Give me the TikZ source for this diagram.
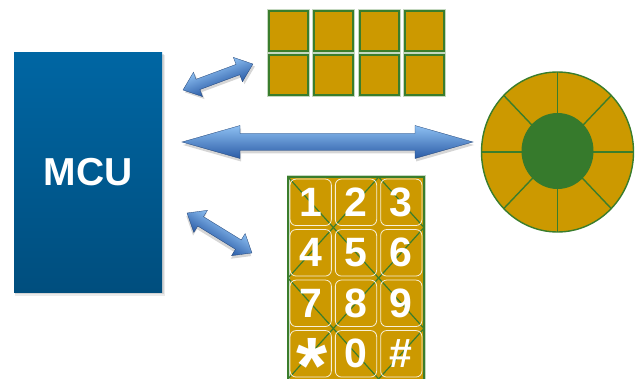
\documentclass[tikz,border=0pt]{standalone}
\usepackage{fontspec}
\setmainfont{Liberation Sans}
\usetikzlibrary{calc}
\definecolor{gold}{HTML}{CC9900}
\definecolor{leaf}{HTML}{3A7D2C}
\definecolor{innerg}{HTML}{367A2C}
\definecolor{mcutop}{HTML}{0066A3}
\definecolor{mcubot}{HTML}{004E7E}
\definecolor{arrtop}{HTML}{8EC0F2}
\definecolor{arrmid}{HTML}{4F8EDC}
\definecolor{arrbot}{HTML}{2A5BA6}
\newcommand\bluearrow[7]{%
  \begin{scope}[transform canvas={shift={(#1,#2)},rotate=#3}]
    \fill[black,opacity=0.16] (1,3) -- (#7+1,#6+3) -- (#7+1,#5+3) -- ({#4-#7+1},#5+3) -- ({#4-#7+1},#6+3) -- (#4+1,3) -- ({#4-#7+1},-#6+3) -- ({#4-#7+1},-#5+3) -- (#7+1,-#5+3) -- (#7+1,-#6+3) -- cycle;
    \shade[top color=arrtop, middle color=arrmid, bottom color=arrbot, draw=arrbot!70!black, line width=0.3]
      (0,0) -- (#7,#6) -- (#7,#5) -- ({#4-#7},#5) -- ({#4-#7},#6) -- (#4,0) -- ({#4-#7},-#6) -- ({#4-#7},-#5) -- (#7,-#5) -- (#7,-#6) -- cycle;
  \end{scope}}
\begin{document}
\begin{tikzpicture}[x=1pt,y=-1pt,
  mcubox/.style={minimum width=148pt, minimum height=239pt, inner sep=0pt,
     top color=mcutop, bottom color=mcubot, text=white,
     font=\fontsize{39}{39}\selectfont\bfseries},
  tile/.style={minimum width=39pt, minimum height=40pt, inner sep=0pt, fill=gold,
     draw=leaf, line width=1.8pt, preaction={draw=leaf!30!white, line width=4pt}},
  keybox/.style={minimum width=41.3pt, minimum height=46.5pt, inner sep=0pt,
     rounded corners=6pt, draw=white!85!gold, line width=0.8pt, text=white,
     font=\fontsize{41}{41}\selectfont\bfseries},
  diag/.style={leaf, line width=1.2pt}
]
\useasboundingbox (0,0) rectangle (639,379);
\fill[white] (0,0) rectangle (639,379);

% MCU
\fill[black,opacity=0.08] (15,55) rectangle (165,296);
\fill[black,opacity=0.10] (15,54) rectangle (164,294);
\node[mcubox] (mcu) at (88,172.5) {MCU};

% top tiles
\foreach \i in {0,1,2,3}{
  \foreach \j in {0,1}{
    \pgfmathsetmacro{\tx}{269+19.5+45.3*\i}
    \pgfmathsetmacro{\ty}{11+20+44*\j}
    \node[tile] (tile-\i-\j) at (\tx,\ty) {};
  }
}

% wheel
\coordinate (wc) at (557.5,152);
\filldraw[fill=gold, draw=leaf, line width=1.4pt] (wc) ellipse [x radius=76, y radius=80];
\foreach \a in {0,45,...,315}
  \draw[leaf, line width=1.4pt] (wc) -- ++({76*cos(\a)},{80*sin(\a)});
\fill[innerg] (557.5,151) ellipse [x radius=36, y radius=38];

% keypad
\fill[gold] (288,177) rectangle (424,383);
\draw[leaf!30!white, line width=3pt] (288,383) -- (288,177) -- (424,177) -- (424,383);
\draw[leaf, line width=1.3pt] (288,383) -- (288,177) -- (424,177) -- (424,383);
\foreach \i in {0,1,2}{
  \foreach \j in {0,1,2,3}{
    \pgfmathsetmacro{\xa}{288+45.33*\i}
    \pgfmathsetmacro{\xb}{288+45.33*(\i+1)}
    \pgfmathsetmacro{\ya}{177+50.5*\j}
    \pgfmathsetmacro{\yb}{177+50.5*(\j+1)}
    \pgfmathtruncatemacro{\parity}{mod(\i+\j,2)}
    \ifnum\parity=0
      \draw[diag] (\xa,\ya) -- (\xb,\yb);
    \else
      \draw[diag] (\xa,\yb) -- (\xb,\ya);
    \fi
  }
}
\node[keybox] (k1) at (310.7,202.3) {1};
\node[keybox] (k2) at (356,202.3) {2};
\node[keybox] (k3) at (401.3,202.3) {3};
\node[keybox] (k4) at (310.7,252.8) {4};
\node[keybox] (k5) at (356,252.8) {5};
\node[keybox] (k6) at (401.3,252.8) {6};
\node[keybox] (k7) at (310.7,303.3) {7};
\node[keybox] (k8) at (356,303.3) {8};
\node[keybox] (k9) at (401.3,303.3) {9};
\node[keybox] (kstar) at (310.7,353.8) {};
\node[keybox] (k0) at (356,353.8) {0};
\node[keybox] (khash) at (401.3,353.8) {\#};
\node[anchor=base, inner sep=0pt, text=white, font=\fontsize{80}{80}\selectfont\bfseries] (star) at (312,393) {*};

% arrows
\bluearrow{183}{90}{20.4}{74.6}{5.5}{13}{16}
\bluearrow{182}{142}{0}{291}{8.5}{16.5}{58}
\bluearrow{187}{213}{-31.6}{76.3}{5.5}{13}{16}
\end{tikzpicture}
\end{document}
